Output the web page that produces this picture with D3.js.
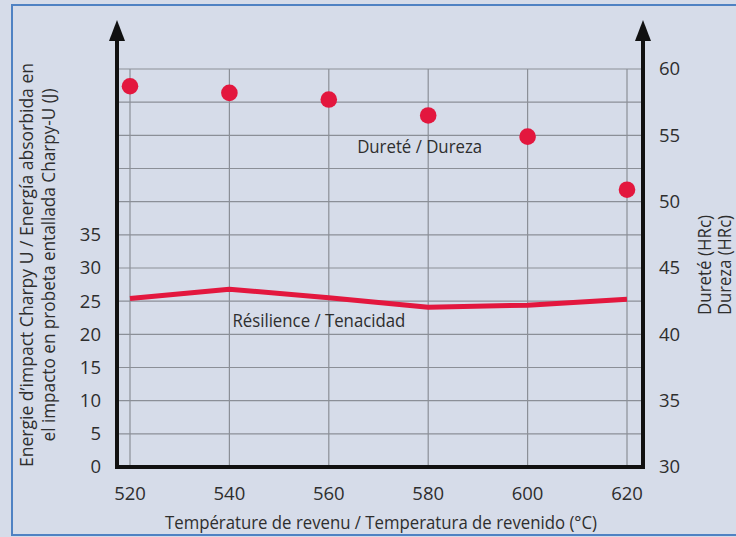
<!DOCTYPE html>
<html>
<head>
<meta charset="utf-8">
<script src="https://cdn.jsdelivr.net/npm/d3@7"></script>
<style>
  html, body { margin: 0; padding: 0; background: #d6dce9; }
  svg text { font-family: "Open Sans", sans-serif; fill: #2e2e2e; }
</style>
</head>
<body>
<div id="chart"></div>
<script>
// temperatures de revenu (°C)
const temps = [520, 540, 560, 580, 600, 620];
// dureté HRc (points rouges, axe droit)
const hardness = [58.7, 58.2, 57.7, 56.5, 54.9, 50.9];
// résilience J (courbe rouge, axe gauche)
const resilience = [25.4, 26.8, 25.5, 24.1, 24.4, 25.3];

const leftTicks = [0, 5, 10, 15, 20, 25, 30, 35];
const rightTicks = [30, 35, 40, 45, 50, 55, 60];
const gridVals = [5, 10, 15, 20, 25, 30, 35, 40, 45, 50, 55, 60];

const width = 736, height = 537;
const axisL = 117, axisR = 643, axisB = 467, arrowTop = 20;

const svg = d3.select("#chart").append("svg")
  .attr("width", width).attr("height", height);

svg.append("rect")
  .attr("x", 12).attr("y", 5).attr("width", 740).attr("height", 530)
  .attr("fill", "#d6dce9").attr("stroke", "#4f82c3").attr("stroke-width", 2);

const x = d3.scaleLinear().domain([520, 620]).range([130, 627]);
const yL = d3.scaleLinear().domain([0, 60]).range([axisB, 69]);
const yR = d3.scaleLinear().domain([30, 60]).range([axisB, 69]);

const red = "#e3173e";
const grid = svg.append("g").attr("stroke", "#8b8f97").attr("stroke-width", 1.2);

grid.selectAll(".h").data(gridVals).join("line")
  .attr("x1", axisL).attr("x2", axisR)
  .attr("y1", d => yL(d)).attr("y2", d => yL(d));

grid.selectAll(".v").data(temps).join("line")
  .attr("x1", d => x(d)).attr("x2", d => x(d))
  .attr("y1", yL(60)).attr("y2", axisB);

// axes frame
const ax = svg.append("g");
ax.append("path")
  .attr("d", `M${axisL},${arrowTop + 15}V${axisB}H${axisR}V${arrowTop + 15}`)
  .attr("fill", "none").attr("stroke", "#111").attr("stroke-width", 4);
[axisL, axisR].forEach(px => {
  ax.append("path")
    .attr("d", `M${px},${arrowTop}L${px - 8},${arrowTop + 21}L${px + 8},${arrowTop + 21}Z`)
    .attr("fill", "#111");
});

// tick labels
svg.append("g").selectAll("text").data(leftTicks).join("text")
  .attr("x", 101).attr("y", d => yL(d)).attr("dy", "0.35em")
  .attr("text-anchor", "end").attr("font-size", 18.5).text(d => d);

svg.append("g").selectAll("text").data(rightTicks).join("text")
  .attr("x", 659).attr("y", d => yR(d)).attr("dy", "0.35em")
  .attr("font-size", 18.5).text(d => d);

svg.append("g").selectAll("text").data(temps).join("text")
  .attr("x", d => x(d)).attr("y", 500)
  .attr("text-anchor", "middle").attr("font-size", 18.5).text(d => d);

// resilience line
const line = d3.line()
  .x((d, i) => x(temps[i]))
  .y(d => yL(d));

svg.append("path")
  .datum(resilience)
  .attr("d", line)
  .attr("fill", "none").attr("stroke", red).attr("stroke-width", 5)
  .attr("stroke-linejoin", "round");

// hardness dots
svg.append("g").selectAll("circle").data(hardness).join("circle")
  .attr("cx", (d, i) => x(temps[i])).attr("cy", d => yR(d))
  .attr("r", 8.3).attr("fill", red);

// series labels
svg.append("text")
  .attr("x", x(565.7)).attr("y", yR(53.7))
  .attr("font-size", 18).attr("textLength", 125).attr("lengthAdjust", "spacingAndGlyphs")
  .text("Dureté / Dureza");
svg.append("text")
  .attr("x", x(540.6)).attr("y", yL(21.1))
  .attr("font-size", 18).attr("textLength", 173).attr("lengthAdjust", "spacingAndGlyphs")
  .text("Résilience / Tenacidad");

// axis titles
svg.append("text")
  .attr("x", 381).attr("y", 529).attr("text-anchor", "middle")
  .attr("font-size", 18).attr("textLength", 432).attr("lengthAdjust", "spacingAndGlyphs")
  .text("Température de revenu / Temperatura de revenido (°C)");

const leftTitle = [
  { t: "Energie d’impact Charpy U / Energía absorbida en", w: 404 },
  { t: "el impacto en probeta entallada Charpy-U (J)", w: 353 }
];
svg.append("g").selectAll("text").data(leftTitle).join("text")
  .attr("transform", (d, i) => `translate(${33 + i * 22},265) rotate(-90)`)
  .attr("text-anchor", "middle").attr("font-size", 18)
  .attr("textLength", d => d.w).attr("lengthAdjust", "spacingAndGlyphs")
  .text(d => d.t);

const rightTitle = ["Dureté (HRc)", "Dureza (HRc)"];
svg.append("g").selectAll("text").data(rightTitle).join("text")
  .attr("transform", (d, i) => `translate(${711 + i * 20},265) rotate(-90)`)
  .attr("text-anchor", "middle").attr("font-size", 18)
  .attr("textLength", 100).attr("lengthAdjust", "spacingAndGlyphs")
  .text(d => d);
</script>
</body>
</html>
